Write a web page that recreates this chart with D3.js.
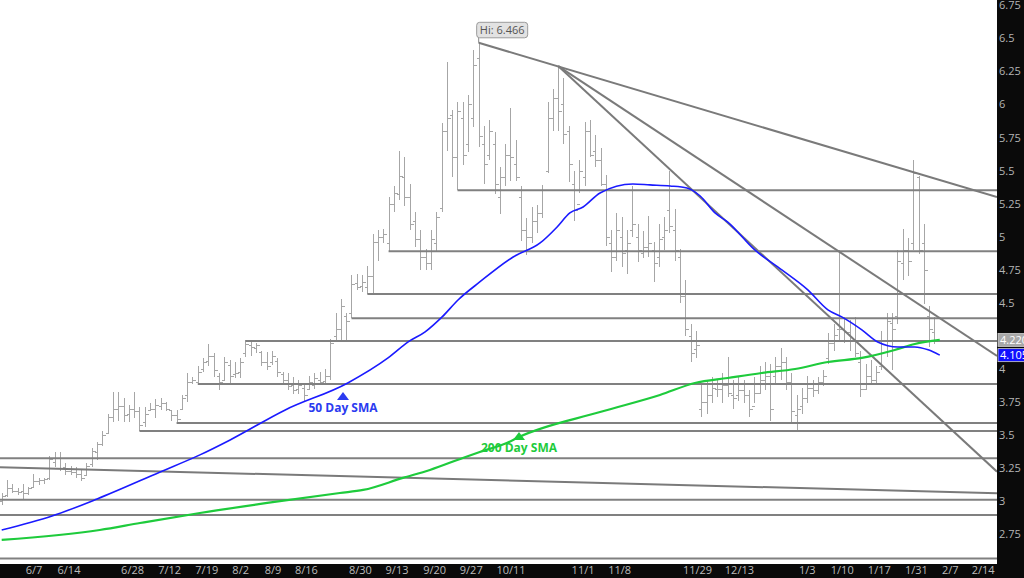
<!DOCTYPE html>
<html><head><meta charset="utf-8">
<script src="https://cdn.jsdelivr.net/npm/d3@7"></script>
<style>body{margin:0;background:#fff;} svg{display:block;font-family:"Open Sans",sans-serif;}</style>
</head><body><svg id="c" width="1024" height="578"></svg>
<script>
// ---- data ----
const highs=[3.06,3.16,3.13,3.10,3.13,3.11,3.21,3.18,3.18,3.34,3.37,3.37,3.29,3.27,3.26,3.24,3.29,3.40,3.45,3.53,
3.66,3.83,3.83,3.78,3.73,3.83,3.71,3.71,3.74,3.77,3.78,3.75,3.69,3.69,3.80,3.97,3.94,4.02,4.08,4.19,
4.12,3.97,4.09,4.07,4.05,4.08,4.217,4.21,4.20,4.14,4.13,4.14,4.08,3.98,3.97,3.94,3.92,3.89,3.95,3.97,
3.98,4.00,4.23,4.42,4.53,4.42,4.71,4.72,4.71,4.78,5.02,5.05,5.06,5.30,5.38,5.65,5.60,5.40,5.19,5.05,
4.91,5.05,5.19,5.86,6.32,5.96,6.02,6.02,6.07,6.41,6.466,5.84,5.88,5.79,5.53,5.70,5.97,5.73,5.38,5.14,
5.225,5.24,5.39,6.02,6.12,6.29,6.20,5.84,5.50,5.58,5.87,5.88,5.77,5.67,5.47,5.05,5.18,5.15,5.05,5.38,
5.10,5.04,5.16,4.96,5.10,5.15,5.50,5.21,4.91,4.67,4.34,4.29,3.89,3.92,3.94,3.92,3.97,4.09,3.92,3.94,
3.92,3.84,3.94,4.02,4.05,4.04,4.09,4.16,4.09,3.97,3.80,3.86,3.95,3.92,3.94,3.99,4.27,4.34,4.90,4.39,
4.37,4.39,4.14,4.04,4.07,4.02,4.29,4.42,4.42,4.90,5.06,4.99,5.58,5.46,5.10,4.48,4.39];
const lows=[2.97,3.03,3.06,3.05,3.02,3.05,3.10,3.12,3.13,3.16,3.26,3.23,3.20,3.20,3.18,3.15,3.20,3.26,3.31,3.42,
3.51,3.60,3.61,3.60,3.60,3.63,3.53,3.56,3.68,3.63,3.69,3.68,3.61,3.59,3.69,3.75,3.89,3.885,3.98,4.02,
3.94,3.84,3.92,3.88,3.93,3.93,4.09,4.10,4.12,4.02,3.99,4.03,3.94,3.89,3.84,3.81,3.81,3.75,3.84,3.85,
3.89,3.89,3.92,4.22,4.22,4.22,4.384,4.60,4.58,4.565,4.57,4.82,4.95,4.89,5.19,5.28,5.23,5.05,4.92,4.75,
4.75,4.75,4.89,5.19,5.65,5.45,5.351,5.54,5.64,5.83,5.68,5.40,5.58,5.32,5.17,5.38,5.42,5.42,4.97,4.86,
4.95,5.03,5.14,5.48,5.80,5.80,5.70,5.41,5.12,5.33,5.38,5.60,5.53,5.38,4.93,4.73,4.82,4.77,4.72,5.00,
4.81,4.84,4.85,4.66,4.77,4.90,5.03,4.82,4.50,4.25,4.05,4.08,3.64,3.66,3.74,3.79,3.74,3.79,3.70,3.76,
3.74,3.64,3.74,3.81,3.84,3.61,3.89,3.92,3.84,3.59,3.53,3.66,3.74,3.79,3.81,3.87,4.04,4.14,4.22,4.20,
4.14,4.09,3.79,3.84,3.89,3.89,3.99,4.09,3.99,4.34,4.67,4.70,4.90,4.87,4.49,4.17,4.19];
const opens=[3.00,3.05,3.10,3.08,3.08,3.06,3.11,3.15,3.16,3.18,3.30,3.33,3.26,3.23,3.22,3.21,3.20,3.28,3.37,3.43,
3.52,3.64,3.70,3.72,3.66,3.70,3.68,3.60,3.69,3.70,3.72,3.74,3.69,3.65,3.70,3.80,3.90,3.90,4.00,4.06,
4.10,3.95,3.92,4.03,3.96,3.98,4.12,4.18,4.16,4.13,4.05,4.05,4.06,3.96,3.92,3.88,3.85,3.86,3.85,3.88,
3.92,3.91,3.95,4.25,4.30,4.40,4.42,4.65,4.63,4.62,4.70,4.96,5.00,4.95,5.25,5.32,5.45,5.30,5.12,4.98,
4.85,4.80,4.95,5.22,5.80,5.92,5.60,5.90,5.70,5.90,6.35,5.70,5.62,5.70,5.30,5.45,5.62,5.55,5.30,5.05,
5.00,5.12,5.18,5.50,5.90,6.05,6.00,5.80,5.40,5.25,5.45,5.80,5.65,5.58,5.40,4.95,4.85,5.00,4.90,5.05,
5.00,4.88,4.92,4.90,4.85,5.00,5.20,5.05,4.85,4.55,4.25,4.15,3.70,3.75,3.80,3.85,3.85,3.88,3.80,3.80,
3.84,3.80,3.72,3.82,3.92,3.95,3.95,4.02,4.05,3.90,3.65,3.72,3.78,3.86,3.84,3.90,4.08,4.20,4.30,4.30,
4.28,4.22,4.05,3.85,3.95,3.92,4.02,4.22,4.35,4.40,4.80,4.90,4.95,5.45,4.95,4.40,4.28];
const closes=[3.04,3.10,3.08,3.07,3.06,3.10,3.15,3.16,3.17,3.32,3.33,3.25,3.23,3.22,3.21,3.18,3.27,3.38,3.43,3.50,
3.64,3.70,3.72,3.65,3.70,3.68,3.58,3.66,3.70,3.73,3.74,3.70,3.65,3.62,3.78,3.90,3.92,3.98,4.05,4.10,
3.99,3.90,4.05,3.95,3.97,4.05,4.19,4.17,4.18,4.05,4.02,4.10,3.98,3.92,3.87,3.84,3.88,3.80,3.90,3.93,
3.90,3.95,4.20,4.30,4.48,4.36,4.64,4.62,4.66,4.70,4.96,5.00,5.02,5.25,5.33,5.46,5.30,5.10,4.98,4.85,
4.80,4.98,5.15,5.80,5.90,5.60,5.95,5.62,6.00,6.30,5.76,5.55,5.80,5.40,5.45,5.62,5.60,5.45,5.05,5.00,
5.12,5.18,5.35,5.90,6.05,5.95,5.78,5.55,5.20,5.50,5.80,5.62,5.58,5.40,5.00,4.85,5.05,4.88,4.95,5.10,
4.90,4.92,4.95,4.80,4.98,5.05,5.08,4.90,4.55,4.30,4.12,4.18,3.75,3.80,3.86,3.85,3.88,3.82,3.78,3.84,
3.80,3.70,3.82,3.92,3.95,3.70,4.02,4.05,3.90,3.68,3.70,3.78,3.86,3.84,3.90,3.95,4.20,4.26,4.30,4.28,
4.22,4.12,3.85,3.95,3.92,3.98,4.22,4.36,4.30,4.82,4.90,4.82,5.48,4.90,4.75,4.30,4.22];

const sma50Idx=[0,9.5,18,29.9,37.4,43.1,53.5,65.3,72.9,76.7,79.9,83.1,86.1,90.2,96.5,101.6,104.8,107.2,109.7,112.9,
119.1,122.3,126.1,129.3,131.8,134.6,137,142.1,147.2,152.1,155.9,158.5,162.3,165.3,169.1,172.3,174.8,177];
const sma50Val=[2.783,2.889,3.018,3.222,3.351,3.464,3.691,3.895,4.084,4.205,4.281,4.394,4.522,4.658,4.847,4.953,5.074,5.180,5.225,5.331,
5.399,5.392,5.384,5.369,5.308,5.180,5.111,4.900,4.749,4.598,4.447,4.394,4.296,4.205,4.167,4.167,4.145,4.105];
const sma200Idx=[0,18.5,26.1,37.4,50.1,63.8,68.2,75.7,80.8,87,90.2,95.3,97.6,112.9,124.2,130.8,137,143.4,149.7,155.9,162.3,168.5,172.3,177];
const sma200Val=[2.708,2.783,2.836,2.912,2.988,3.063,3.086,3.177,3.237,3.328,3.373,3.441,3.486,3.675,3.804,3.894,3.932,3.970,4.000,4.053,4.084,4.144,4.189,4.220];

const levelValues=[5.351,4.890,4.567,4.384,4.212,3.887,3.592,3.532,3.325,3.012,2.897,2.567];
const levelStartIdx=[86,73,69,66,46,37,33,26,-0.32,-0.32,-0.32,-0.32];
const trendStart=[[90,6.466],[105,6.29],[105,6.29],[-0.32,3.258]];
const trendEnd=[[187.8,5.30],[187.8,4.099],[187.8,3.224],[187.8,3.061]];

const xTickLabels=["6/7","6/14","6/28","7/12","7/19","8/2","8/9","8/16","8/30","9/13","9/20","9/27","10/11","11/1","11/8","11/29","12/13","1/3","1/10","1/17","1/31","2/7","2/14"];
const xTickIdx=[6.0,12.6,24.6,31.6,38.6,45.0,51.1,57.4,67.6,74.5,81.6,88.5,96.0,109.6,116.5,131.2,139.1,151.9,158.5,165.5,172.5,178.9,185.1];
// 4.25 is hidden under the last-value box in the reference
const yTicks=[2.75,3,3.25,3.5,3.75,4,4.5,4.75,5,5.25,5.5,5.75,6,6.25,6.5,6.75];
const hiLabel="Hi: 6.466", hiIdx=90, hiVal=6.466;
const lastValues=[{t:"4.220",v:4.22,fill:"#a8a8a8"},{t:"4.105",v:4.105,fill:"#1010ff"}];

// ---- layout ----
const W=1024,H=578,PR=997,PB=564;
const svg=d3.select("#c");
const x=d3.scaleLinear().domain([-0.32,187.8]).range([0,PR]);
const y=d3.scaleLinear().domain([6.5,2.75]).range([38.3,534.4]);

svg.append("defs").append("clipPath").attr("id","clip").append("rect").attr("x",0).attr("y",0).attr("width",PR).attr("height",PB);
const g=svg.append("g").attr("clip-path","url(#clip)");
g.append("rect").attr("width",PR).attr("height",PB).attr("fill","#fff");

// bars
const bars=g.append("g").attr("stroke","#a6a6a6").attr("stroke-width",1).attr("shape-rendering","crispEdges");
highs.forEach((h,i)=>{
  const xi=Math.round(x(i))+0.5;
  bars.append("line").attr("x1",xi).attr("x2",xi).attr("y1",y(h)).attr("y2",y(lows[i]));
  bars.append("line").attr("x1",xi-3).attr("x2",xi).attr("y1",Math.round(y(opens[i]))+0.5).attr("y2",Math.round(y(opens[i]))+0.5);
  bars.append("line").attr("x1",xi).attr("x2",xi+3).attr("y1",Math.round(y(closes[i]))+0.5).attr("y2",Math.round(y(closes[i]))+0.5);
});

// horizontal levels
levelValues.forEach((v,k)=>{
  g.append("line").attr("x1",x(levelStartIdx[k])).attr("x2",PR).attr("y1",y(v)).attr("y2",y(v))
   .attr("stroke","#808080").attr("stroke-width",2);
});
// trend lines
trendStart.forEach((s,k)=>{
  const e=trendEnd[k];
  g.append("line").attr("x1",x(s[0])).attr("y1",y(s[1])).attr("x2",x(e[0])).attr("y2",y(e[1]))
   .attr("stroke","#7a7a7a").attr("stroke-width",2);
});

// SMAs
const ln=d3.line().curve(d3.curveMonotoneX);
g.append("path").attr("d",ln(sma200Idx.map((d,i)=>[x(d),y(sma200Val[i])]))).attr("fill","none").attr("stroke","#1ecb3c").attr("stroke-width",2.2);
g.append("path").attr("d",ln(sma50Idx.map((d,i)=>[x(d),y(sma50Val[i])]))).attr("fill","none").attr("stroke","#1a1aff").attr("stroke-width",1.6);

// SMA labels
function smaLabel(cx,ty,text,color){
  g.append("path").attr("d",`M${cx-6},${ty+6}L${cx+6},${ty+6}L${cx},${ty-2}Z`).attr("fill",color);
  g.append("text").attr("x",cx).attr("y",ty+18).attr("text-anchor","middle").attr("font-size",12).attr("font-weight","bold").attr("fill",color).text(text);
}
smaLabel(343,394,"50 Day SMA","#2b3bf0");
smaLabel(519,434,"200 Day SMA","#1ecb3c");

// Hi label
const hx=x(hiIdx), hy=y(hiVal);
g.append("line").attr("x1",hx).attr("x2",hx).attr("y1",hy).attr("y2",hy-5).attr("stroke","#888");
g.append("rect").attr("x",hx-2).attr("y",hy-20.5).attr("width",51).attr("height",15.5).attr("rx",3).attr("fill","#e2e2e2").attr("stroke","#9a9a9a");
g.append("text").attr("x",hx+23.5).attr("y",hy-9).attr("text-anchor","middle").attr("font-size",11).attr("fill","#555").text(hiLabel);

// right axis
svg.append("rect").attr("x",PR).attr("y",0).attr("width",W-PR).attr("height",H).attr("fill","#0a0a0a");
svg.append("rect").attr("x",0).attr("y",PB).attr("width",W).attr("height",H-PB).attr("fill","#0a0a0a");
const yAxis=d3.axisRight(y).tickValues(yTicks).tickSize(0).tickPadding(2).tickFormat(d3.format("~g"));
const ya=svg.append("g").attr("transform",`translate(${PR},0)`).call(yAxis);
ya.select(".domain").remove();
ya.selectAll("text").attr("fill","#b4b4b4").attr("font-size",11).attr("font-family","Open Sans");

lastValues.forEach(d=>{
  const yy=y(d.v);
  svg.append("rect").attr("x",PR+1).attr("y",yy-6.5).attr("width",30).attr("height",13).attr("fill",d.fill).attr("stroke","#d0d0d0").attr("stroke-width",0.8);
  svg.append("text").attr("x",PR+3).attr("y",yy+4).attr("font-size",11).attr("fill","#fff").text(d.t);
});

// bottom axis
const xAxis=d3.axisBottom(x).tickValues(xTickIdx).tickSize(0).tickPadding(2).tickFormat((d,i)=>xTickLabels[i]);
const xa=svg.append("g").attr("transform",`translate(0,${PB})`).call(xAxis);
xa.select(".domain").remove();
xa.selectAll("text").attr("fill","#bcbcbc").attr("font-size",11).attr("font-family","Open Sans");
</script></body></html>
